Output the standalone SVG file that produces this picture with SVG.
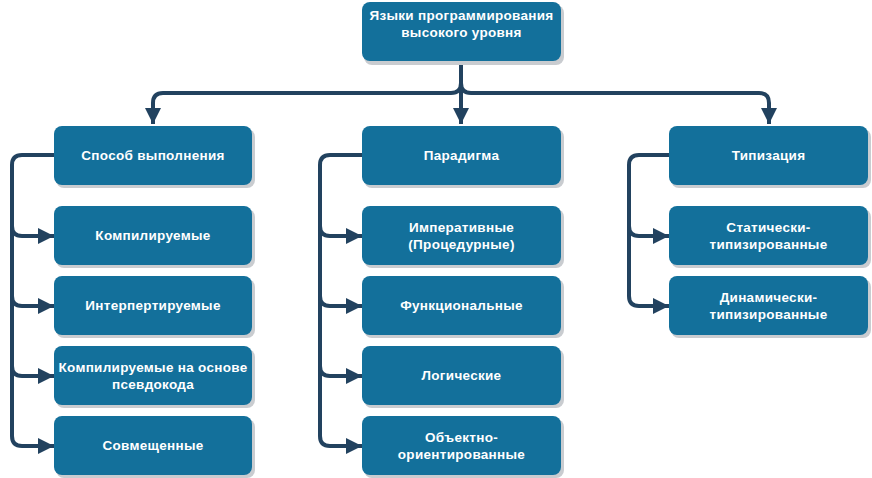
<svg xmlns="http://www.w3.org/2000/svg" width="872" height="478" viewBox="0 0 872 478">
<defs>
<style>
.sh{fill:#c9ccd0}
.bx{fill:#13709b}
.t{font-family:"Liberation Sans",Arial,sans-serif;font-weight:bold;font-size:13.5px;fill:#ffffff;text-anchor:middle;letter-spacing:0.3px}
.c{fill:none;stroke:#22425f;stroke-width:4;stroke-linecap:butt;stroke-linejoin:round}
</style>
<marker id="ah" markerWidth="16" markerHeight="16" viewBox="0 0 16 16" refX="16" refY="8" orient="auto" markerUnits="userSpaceOnUse">
<path d="M0,0 L16,8 L0,16 Z" fill="#22425f"/>
</marker>
</defs>
<rect width="872" height="478" fill="#ffffff"/>
<g id="connectors">
<path class="c" d="M461,62 L461,83 Q461,93 451,93 L163,93 Q153,93 153,103 L153,124" marker-end="url(#ah)"/>
<path class="c" d="M461,83 Q461,93 471,93 L759,93 Q769,93 769,103 L769,124" marker-end="url(#ah)"/>
<path class="c" d="M461,90 L461,124" marker-end="url(#ah)"/>
<path class="c" d="M54,155 L22,155 Q12,155 12,165 L12,436"/>
<path class="c" d="M12,226 Q12,236 22,236 L54,236" marker-end="url(#ah)"/>
<path class="c" d="M12,296 Q12,306 22,306 L54,306" marker-end="url(#ah)"/>
<path class="c" d="M12,366 Q12,376 22,376 L54,376" marker-end="url(#ah)"/>
<path class="c" d="M12,436 Q12,446 22,446 L54,446" marker-end="url(#ah)"/>
<path class="c" d="M362,155 L330,155 Q320,155 320,165 L320,436"/>
<path class="c" d="M320,226 Q320,236 330,236 L362,236" marker-end="url(#ah)"/>
<path class="c" d="M320,296 Q320,306 330,306 L362,306" marker-end="url(#ah)"/>
<path class="c" d="M320,366 Q320,376 330,376 L362,376" marker-end="url(#ah)"/>
<path class="c" d="M320,436 Q320,446 330,446 L362,446" marker-end="url(#ah)"/>
<path class="c" d="M669,155 L639,155 Q629,155 629,165 L629,296"/>
<path class="c" d="M629,226 Q629,236 639,236 L669,236" marker-end="url(#ah)"/>
<path class="c" d="M629,296 Q629,306 639,306 L669,306" marker-end="url(#ah)"/>
</g>
<g id="root"><rect class="sh" x="364" y="5" width="200" height="60" rx="8"/><rect class="bx" x="362" y="2" width="199" height="59" rx="8"/><text class="t" x="461.5" y="20">Языки программирования</text><text class="t" x="461.5" y="37">высокого уровня</text></g>
<g id="n-sposob"><rect class="sh" x="56" y="129" width="199" height="59" rx="8"/><rect class="bx" x="54" y="126" width="198" height="59" rx="8"/><text class="t" x="153" y="160">Способ выполнения</text></g>
<g id="n-komp"><rect class="sh" x="56" y="209" width="199" height="59" rx="8"/><rect class="bx" x="54" y="206" width="198" height="59" rx="8"/><text class="t" x="153" y="240">Компилируемые</text></g>
<g id="n-interp"><rect class="sh" x="56" y="279" width="199" height="59" rx="8"/><rect class="bx" x="54" y="276" width="198" height="59" rx="8"/><text class="t" x="153" y="310">Интерпертируемые</text></g>
<g id="n-pseudo"><rect class="sh" x="56" y="349" width="199" height="59" rx="8"/><rect class="bx" x="54" y="346" width="198" height="59" rx="8"/><text class="t" x="153" y="372">Компилируемые на основе</text><text class="t" x="153" y="389">псевдокода</text></g>
<g id="n-sovm"><rect class="sh" x="56" y="419" width="199" height="59" rx="8"/><rect class="bx" x="54" y="416" width="198" height="59" rx="8"/><text class="t" x="153" y="450">Совмещенные</text></g>
<g id="n-paradigma"><rect class="sh" x="364" y="129" width="200" height="59" rx="8"/><rect class="bx" x="362" y="126" width="199" height="59" rx="8"/><text class="t" x="461.5" y="160">Парадигма</text></g>
<g id="n-imper"><rect class="sh" x="364" y="209" width="200" height="59" rx="8"/><rect class="bx" x="362" y="206" width="199" height="59" rx="8"/><text class="t" x="461.5" y="232">Императивные</text><text class="t" x="461.5" y="249">(Процедурные)</text></g>
<g id="n-func"><rect class="sh" x="364" y="279" width="200" height="59" rx="8"/><rect class="bx" x="362" y="276" width="199" height="59" rx="8"/><text class="t" x="461.5" y="310">Функциональные</text></g>
<g id="n-logic"><rect class="sh" x="364" y="349" width="200" height="59" rx="8"/><rect class="bx" x="362" y="346" width="199" height="59" rx="8"/><text class="t" x="461.5" y="380">Логические</text></g>
<g id="n-oop"><rect class="sh" x="364" y="419" width="200" height="59" rx="8"/><rect class="bx" x="362" y="416" width="199" height="59" rx="8"/><text class="t" x="461.5" y="442">Объектно-</text><text class="t" x="461.5" y="459">ориентированные</text></g>
<g id="n-tipiz"><rect class="sh" x="671" y="129" width="200" height="59" rx="8"/><rect class="bx" x="669" y="126" width="199" height="59" rx="8"/><text class="t" x="768.5" y="160">Типизация</text></g>
<g id="n-static"><rect class="sh" x="671" y="209" width="200" height="59" rx="8"/><rect class="bx" x="669" y="206" width="199" height="59" rx="8"/><text class="t" x="768.5" y="232">Статически-</text><text class="t" x="768.5" y="249">типизированные</text></g>
<g id="n-dynamic"><rect class="sh" x="671" y="279" width="200" height="59" rx="8"/><rect class="bx" x="669" y="276" width="199" height="59" rx="8"/><text class="t" x="768.5" y="302">Динамически-</text><text class="t" x="768.5" y="319">типизированные</text></g>
</svg>
